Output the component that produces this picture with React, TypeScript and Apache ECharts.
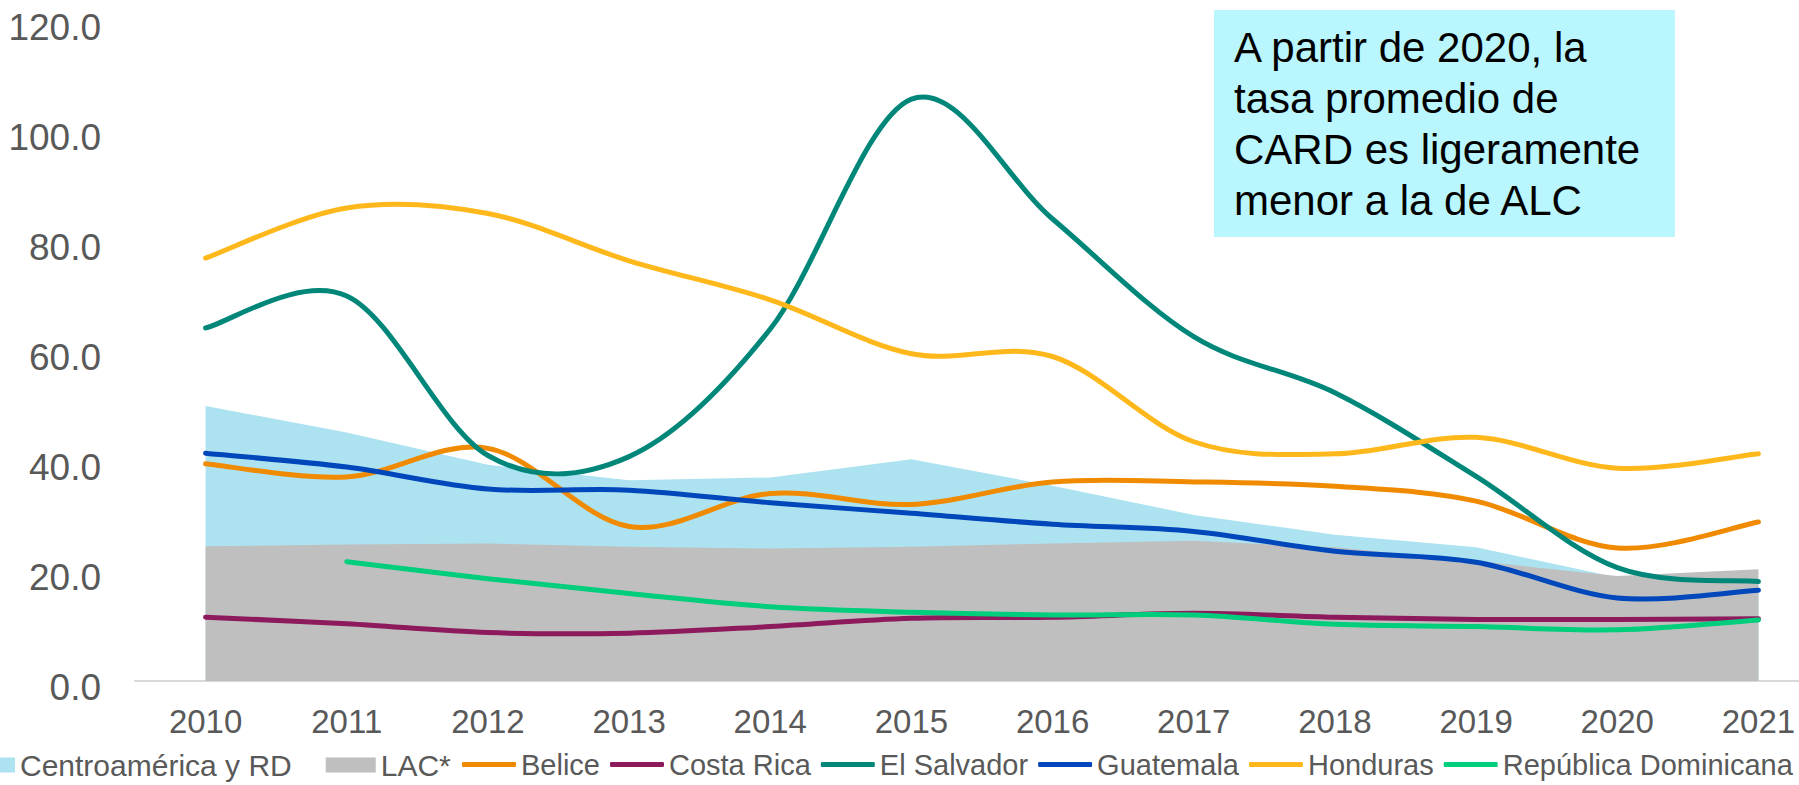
import React, { useEffect, useRef } from "react";
import * as echarts from "echarts";

const years = ["2010", "2011", "2012", "2013", "2014", "2015", "2016", "2017", "2018", "2019", "2020", "2021"];
const centroamerica = [50.0, 45.2, 39.3, 36.5, 37.0, 40.3, 35.5, 30.2, 26.6, 24.3, 18.8, 18.5];
const lac = [24.5, 24.8, 25.0, 24.4, 24.1, 24.4, 25.0, 25.5, 24.3, 21.8, 19.1, 20.3];
const belice = [39.5, 37.1, 42.3, 28.1, 34.1, 32.1, 36.2, 36.2, 35.4, 32.7, 24.2, 28.9];
const costaRica = [11.6, 10.4, 8.8, 8.7, 9.9, 11.4, 11.6, 12.3, 11.6, 11.2, 11.2, 11.3];
const elSalvador = [64.2, 70.0, 41.0, 40.8, 64.0, 105.8, 84.0, 62.6, 52.4, 37.2, 20.6, 18.1];
const guatemala = [41.4, 38.9, 34.9, 34.7, 32.4, 30.5, 28.5, 27.2, 23.6, 21.6, 15.1, 16.5];
const honduras = [76.9, 86.0, 85.0, 76.4, 69.3, 59.5, 59.0, 43.5, 41.3, 44.3, 38.7, 41.3];
const republicaDominicana = [null, 21.7, 18.6, 15.9, 13.5, 12.5, 12.0, 12.0, 10.3, 9.9, 9.3, 11.1];
const yTicks = [0, 20, 40, 60, 80, 100, 120];
const noteLines = ["A partir de 2020, la", "tasa promedio de", "CARD es ligeramente", "menor a la de ALC"];

const FONT = "Liberation Sans, Arial, sans-serif";

// Smoothed line (Catmull-Rom style, as in spreadsheet charts) drawn via the library's coordinate system
function smoothSeries(name: string, values: (number | null)[], color: string) {
  const pts = values
    .map((v, i) => (v === null ? null : [i, v]))
    .filter((p) => p !== null) as number[][];
  return {
    name,
    type: "custom",
    data: pts,
    encode: { x: 0, y: 1 },
    color,
    itemStyle: { color },
    z: 5,
    clip: false,
    renderItem: (params: any, api: any) => {
      if (params.dataIndex !== 0) return null;
      const c = pts.map((p) => api.coord(p));
      let d = `M${c[0][0]},${c[0][1]}`;
      for (let i = 0; i < c.length - 1; i++) {
        const p0 = c[i - 1] || c[i];
        const p1 = c[i];
        const p2 = c[i + 1];
        const p3 = c[i + 2] || c[i + 1];
        const cp1x = p1[0] + (p2[0] - p0[0]) / 6;
        const cp1y = p1[1] + (p2[1] - p0[1]) / 6;
        const cp2x = p2[0] - (p3[0] - p1[0]) / 6;
        const cp2y = p2[1] - (p3[1] - p1[1]) / 6;
        d += ` C${cp1x},${cp1y} ${cp2x},${cp2y} ${p2[0]},${p2[1]}`;
      }
      return {
        type: "path",
        shape: { pathData: d },
        style: { fill: "none", stroke: color, lineWidth: 5, lineCap: "round", lineJoin: "round" },
      };
    },
  };
}

export default function App() {
  const ref = useRef<HTMLDivElement>(null);
  useEffect(() => {
    document.body.style.margin = "0";
    document.body.style.overflow = "hidden";
    const chart = echarts.init(ref.current!, null, { renderer: "svg" });
    const legendText = { fontSize: 29, color: "#595959", fontFamily: FONT };
    chart.setOption({
      animation: false,
      textStyle: { fontFamily: FONT },
      grid: { left: 135, right: 0, top: 21, bottom: 104, containLabel: false },
      xAxis: {
        type: "category",
        data: years,
        boundaryGap: true,
        axisLine: { show: true, lineStyle: { color: "#D9D9D9", width: 2 } },
        axisTick: { show: false },
        axisLabel: { fontSize: 33, color: "#595959", margin: 24, fontFamily: FONT },
        splitLine: { show: false },
      },
      yAxis: {
        type: "value",
        min: yTicks[0],
        max: yTicks[yTicks.length - 1],
        interval: 20,
        axisLine: { show: false },
        axisTick: { show: false },
        splitLine: { show: false },
        axisLabel: {
          fontSize: 37,
          color: "#595959",
          margin: 34,
          verticalAlign: "top",
          lineHeight: 12,
          fontFamily: FONT,
          formatter: (v: number) => v.toFixed(1),
        },
      },
      legend: [
        {
          left: -40,
          top: 745,
          width: 1900,
          itemGap: 34,
          itemWidth: 50,
          itemHeight: 15,
          textStyle: { ...legendText, fontSize: 30 },
          data: [
            { name: "Centroamérica y RD", icon: "rect" },
            { name: "LAC*", icon: "rect" },
          ],
        },
        {
          left: 457,
          top: 745,
          width: 1600,
          itemGap: 10,
          itemWidth: 54,
          itemHeight: 5,
          textStyle: legendText,
          data: ["Belice", "Costa Rica", "El Salvador", "Guatemala", "Honduras", "República Dominicana"].map(
            (n) => ({ name: n, icon: "roundRect" })
          ),
        },
      ],
      series: [
        {
          name: "Centroamérica y RD",
          type: "line",
          data: centroamerica,
          symbol: "none",
          color: "#ADE3F0",
          lineStyle: { width: 0, color: "#ADE3F0" },
          areaStyle: { color: "#ADE3F0", opacity: 1 },
          z: 1,
        },
        {
          name: "LAC*",
          type: "line",
          data: lac,
          symbol: "none",
          color: "#BFBFBF",
          lineStyle: { width: 0, color: "#BFBFBF" },
          areaStyle: { color: "#BFBFBF", opacity: 1 },
          z: 2,
        },
        smoothSeries("Belice", belice, "#F08A00"),
        smoothSeries("Costa Rica", costaRica, "#8C1A5C"),
        smoothSeries("El Salvador", elSalvador, "#00877A"),
        smoothSeries("Guatemala", guatemala, "#0047BB"),
        smoothSeries("Honduras", honduras, "#FFB81C"),
        smoothSeries("República Dominicana", republicaDominicana, "#00CE7C"),
      ],
      graphic: [
        {
          type: "group",
          left: 1214,
          top: 10,
          children: [
            { type: "rect", shape: { x: 0, y: 0, width: 461, height: 227 }, style: { fill: "#B9F6FD" } },
            ...noteLines.map((t, i) => ({
              type: "text",
              x: 20,
              y: 37 + i * 51,
              style: {
                text: t,
                fontSize: 42,
                fontFamily: FONT,
                fill: "#000000",
                verticalAlign: "middle",
              },
            })),
          ],
        },
      ],
    });
    return () => chart.dispose();
  }, []);
  return (
    <div style={{ width: 1799, height: 785, overflow: "hidden", position: "relative" }}>
      <div ref={ref} style={{ width: 1829, height: 785 }} />
    </div>
  );
}
